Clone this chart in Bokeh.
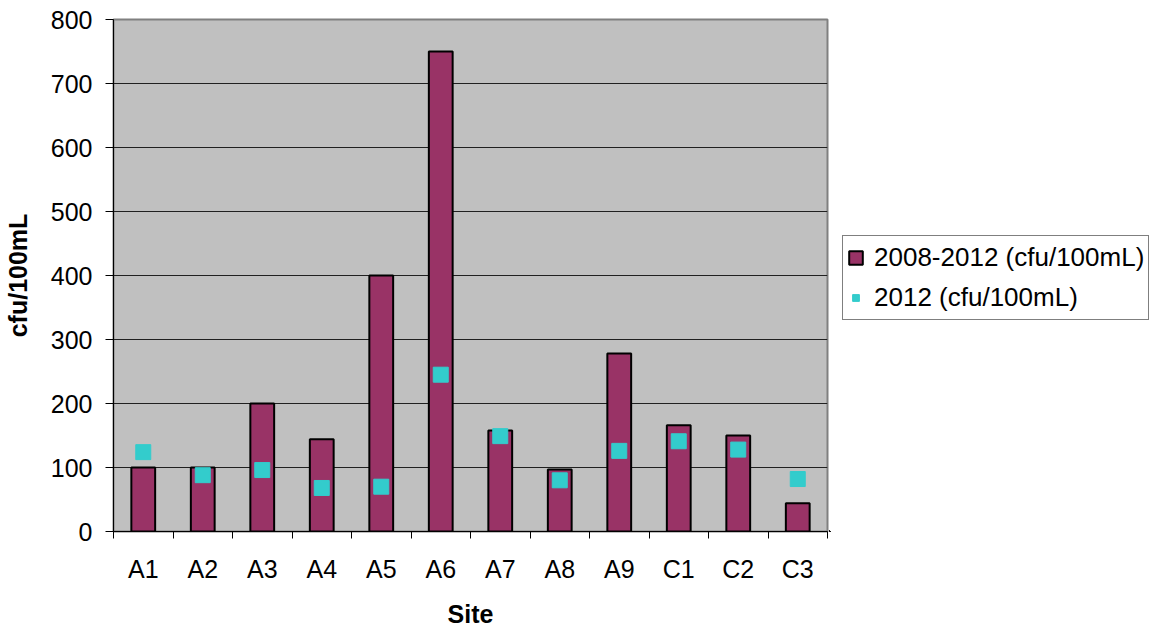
from bokeh.plotting import figure
from bokeh.layouts import row
from bokeh.models import FixedTicker, Range1d, ColumnDataSource, Legend, LegendItem
from bokeh.embed import file_html
from bokeh.resources import INLINE

sites = ["A1", "A2", "A3", "A4", "A5", "A6", "A7", "A8", "A9", "C1", "C2", "C3"]
avg_2008_2012 = [100, 100, 200, 144, 400, 750, 158, 97, 278, 166, 150, 44]
val_2012 = [124, 88, 96, 68, 70, 245, 149, 80, 126, 141, 128, 82]
y_ticks = [0, 100, 200, 300, 400, 500, 600, 700, 800]
series_names = ["2008-2012 (cfu/100mL)", "2012 (cfu/100mL)"]

FONT = "Liberation Sans"
BAR_COLOR = "#993366"
PT_COLOR = "#33CCCC"
xs = list(range(len(sites)))
src = ColumnDataSource(dict(x=xs, site=sites, avg=avg_2008_2012, v12=val_2012))

p = figure(width=829, height=630, output_backend="svg", toolbar_location=None,
           x_range=Range1d(-0.5, len(sites) - 0.5), y_range=Range1d(0, 800),
           min_border_left=113, min_border_right=2, min_border_top=19, min_border_bottom=98)

p.background_fill_color = "#C0C0C0"
p.border_fill_color = "white"
p.outline_line_color = "#808080"
p.outline_line_width = 2

bars = p.vbar(x="x", top="avg", width=0.4, source=src, fill_color=BAR_COLOR,
              line_color="black", line_width=2)
pts = p.scatter(x="x", y="v12", marker="square", size=15, source=src,
                fill_color=PT_COLOR, line_color=PT_COLOR)

xa = p.xaxis[0]
xa.ticker = FixedTicker(ticks=xs, minor_ticks=[i - 0.5 for i in range(len(sites) + 1)])
xa.major_label_overrides = {i: s for i, s in enumerate(sites)}
xa.major_tick_out = 0
xa.major_tick_in = 0
xa.minor_tick_out = 7
xa.minor_tick_in = 0
xa.minor_tick_line_color = "black"
xa.axis_line_color = "black"
xa.major_label_text_font = FONT
xa.major_label_text_font_size = "25px"
xa.major_label_text_color = "black"
xa.major_label_standoff = 16
xa.axis_label = "Site"
xa.axis_label_text_font = FONT
xa.axis_label_text_font_size = "25px"
xa.axis_label_text_font_style = "bold"
xa.axis_label_text_color = "black"
xa.axis_label_standoff = 14

ya = p.yaxis[0]
ya.ticker = FixedTicker(ticks=y_ticks, minor_ticks=[])
ya.major_tick_out = 8
ya.major_tick_in = 0
ya.major_tick_line_color = "black"
ya.axis_line_color = "black"
ya.major_label_text_font = FONT
ya.major_label_text_font_size = "25px"
ya.major_label_text_color = "black"
ya.major_label_standoff = 13
ya.axis_label = "cfu/100mL"
ya.axis_label_text_font = FONT
ya.axis_label_text_font_size = "25px"
ya.axis_label_text_font_style = "bold"
ya.axis_label_text_color = "black"
ya.axis_label_standoff = 16

p.xgrid.visible = False
p.ygrid.ticker = FixedTicker(ticks=y_ticks)
p.ygrid.grid_line_color = "#202020"
p.ygrid.grid_line_width = 1

# legend panel (separate figure so the legend sits outside the plot frame);
# its ranges keep the proxy glyphs out of view, only their legend swatches show
lg = figure(width=329, height=630, output_backend="svg", toolbar_location=None,
            x_axis_type=None, y_axis_type=None,
            x_range=Range1d(1000, 1001), y_range=Range1d(10000, 10001),
            min_border_left=0, min_border_right=0, min_border_top=0, min_border_bottom=0)
lg.outline_line_color = None
lg.background_fill_color = "white"
lg.border_fill_color = "white"
lg.xgrid.visible = False
lg.ygrid.visible = False
lbar = lg.vbar(x="x", top="avg", width=0.4, source=src, fill_color=BAR_COLOR,
               line_color="black", line_width=2)
lpt = lg.scatter(x="x", y="v12", marker="square", size=15, source=src,
                 fill_color=PT_COLOR, line_color=PT_COLOR)

legend = Legend(items=[LegendItem(label=series_names[0], renderers=[lbar]),
                       LegendItem(label=series_names[1], renderers=[lpt])],
                location=(13, 211))
legend.border_line_color = "black"
legend.border_line_width = 1
legend.background_fill_color = "white"
legend.background_fill_alpha = 1
legend.label_text_font = FONT
legend.label_text_font_size = "26px"
legend.label_text_color = "black"
legend.glyph_width = 17
legend.glyph_height = 17
legend.label_standoff = 10
legend.label_height = 35
legend.spacing = 5
legend.padding = 4
legend.margin = 0
lg.add_layout(legend, "center")

layout = row(p, lg)
open("out.html", "w").write(file_html(layout, INLINE))
